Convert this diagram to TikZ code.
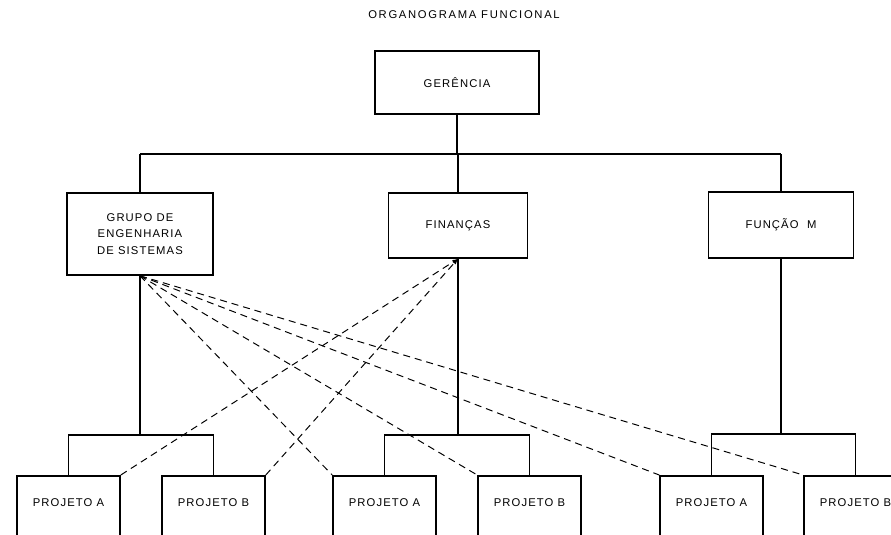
\documentclass[tikz,border=0pt]{standalone}
\usepackage{fontspec}
\setmainfont{Liberation Sans}
\newfontfamily\orgfont[LetterSpace=10]{Liberation Sans}
\newfontfamily\titlefont[LetterSpace=15]{Liberation Sans}
\usetikzlibrary{arrows.meta}

\begin{document}
\begin{tikzpicture}[x=0.025cm, y=-0.025cm,
    font=\orgfont\fontsize{8}{11.7}\selectfont,
    caixa/.style={draw, line width=1.1pt, align=center, inner sep=0pt},
    projeto/.style={draw, line width=1.1pt, minimum width=2.575cm, minimum height=2.5cm, anchor=north},
    ligacao/.style={line width=0.8pt},
    tracejado/.style={line width=0.7pt, dash pattern=on 5pt off 3.5pt}]
    \useasboundingbox (0,0) rectangle (891,534);
    \clip (0,0) rectangle (891,534);
    % titulo
    \node[font=\titlefont\fontsize{8}{10}\selectfont] (titulo) at (464,15) {ORGANOGRAMA FUNCIONAL};
    % primeiro e segundo niveis
    \node[caixa, minimum width=4.1cm, minimum height=1.575cm] (ger) at (457,82.5) {GERÊNCIA};
    \node[caixa, minimum width=3.65cm, minimum height=2.05cm] (grp) at (140,234) {GRUPO DE\\ENGENHARIA\\DE SISTEMAS};
    \node[caixa, minimum width=3.475cm, minimum height=1.625cm] (fin) at (458,225.5) {FINANÇAS};
    \node[caixa, minimum width=3.625cm, minimum height=1.65cm] (fun) at (781,225) {FUNÇÃO\ \ M};
    \coordinate (barL) at (140,154);
    \coordinate (barR) at (781,154);
    \draw[ligacao] (barL) -- (barR);
    \draw[ligacao] (ger.south) -- (ger.south |- barL);
    \draw[ligacao] (barL) -- (grp.north);
    \draw[ligacao] (fin.north |- barL) -- (fin.north);
    \draw[ligacao] (barR) -- (fun.north);
    % projetos
    \node[projeto] (pa1) at (68.5,475) {};
    \node[projeto] (pb1) at (213.5,475) {};
    \node[projeto] (pa2) at (384.5,475) {};
    \node[projeto] (pb2) at (529.5,475) {};
    \node[projeto] (pa3) at (711.5,475) {};
    \node[projeto] (pb3) at (855.5,475) {};
    \node (ta1) at ([yshift=-0.7cm]pa1.north) {PROJETO A};
    \node (tb1) at ([yshift=-0.7cm]pb1.north) {PROJETO B};
    \node (ta2) at ([yshift=-0.7cm]pa2.north) {PROJETO A};
    \node (tb2) at ([yshift=-0.7cm]pb2.north) {PROJETO B};
    \node (ta3) at ([yshift=-0.7cm]pa3.north) {PROJETO A};
    \node (tb3) at ([yshift=-0.7cm]pb3.north) {PROJETO B};
    \coordinate (g1) at (140,435);
    \coordinate (g2) at (458,435);
    \coordinate (g3) at (781,434);
    \draw[ligacao] (grp.south) -- (g1);
    \draw[ligacao] (fin.south) -- (g2);
    \draw[ligacao] (fun.south) -- (g3);
    \draw[ligacao] (pa1.north) |- (g1) -| (pb1.north);
    \draw[ligacao] (pa2.north) |- (g2) -| (pb2.north);
    \draw[ligacao] (pa3.north) |- (g3) -| (pb3.north);
    % ligacoes funcionais
    \foreach \p in {pa2,pb2,pa3,pb3}
        \draw[tracejado] (grp.south) -- (\p.north west);
    \foreach \p in {pa1,pb1}
        \draw[tracejado, -{Latex[length=4pt,width=3pt]}] (\p.north east) -- (fin.south);
\end{tikzpicture}
\end{document}
